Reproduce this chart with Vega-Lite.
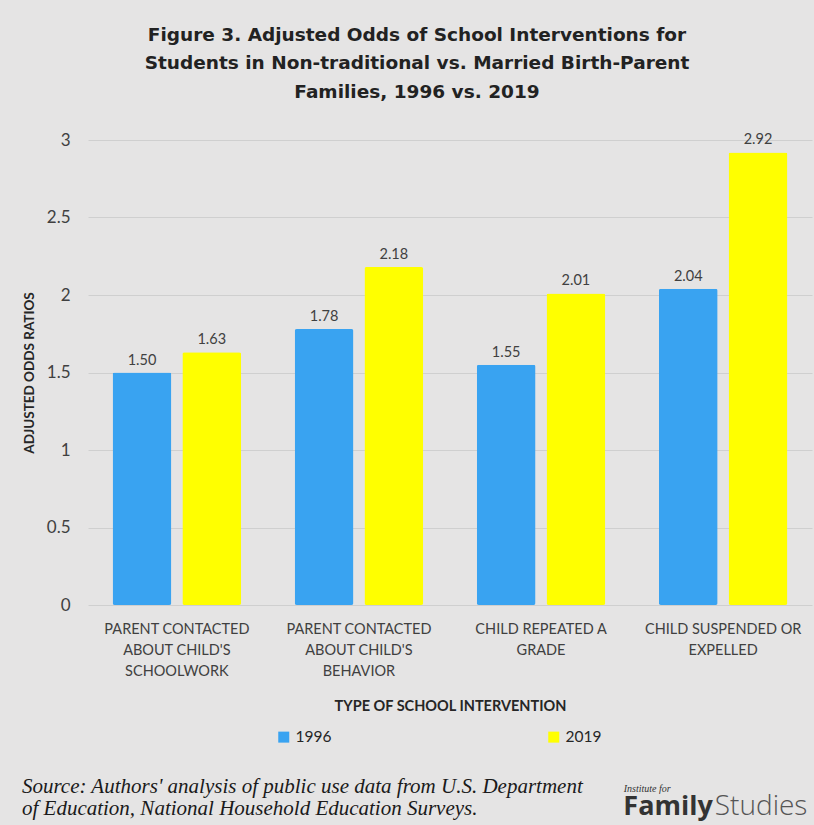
{
  "$schema": "https://vega.github.io/schema/vega-lite/v6.json",
  "background": "#e5e4e4",
  "padding": {"left": 21, "top": 25, "right": 3, "bottom": 10},
  "config": {
    "view": {"stroke": null},
    "font": "Lato",
    "axis": {"labelColor": "#404040", "titleColor": "#262626"}
  },
  "title": {
    "text": ["Figure 3. Adjusted Odds of School Interventions for", "Students in Non-traditional vs. Married Birth-Parent", "Families, 1996 vs. 2019"],
    "font": "DejaVu Sans",
    "fontSize": 18.5,
    "fontWeight": "bold",
    "color": "#222222",
    "lineHeight": 28.5,
    "anchor": "middle",
    "offset": 30
  },
  "spacing": 57,
  "vconcat": [
    {
      "width": 724,
      "height": 465,
      "data": {
        "values": [
          {"intervention": "PARENT CONTACTED\nABOUT CHILD'S\nSCHOOLWORK", "year": "1996", "odds": 1.50},
          {"intervention": "PARENT CONTACTED\nABOUT CHILD'S\nSCHOOLWORK", "year": "2019", "odds": 1.63},
          {"intervention": "PARENT CONTACTED\nABOUT CHILD'S\nBEHAVIOR", "year": "1996", "odds": 1.78},
          {"intervention": "PARENT CONTACTED\nABOUT CHILD'S\nBEHAVIOR", "year": "2019", "odds": 2.18},
          {"intervention": "CHILD REPEATED A\nGRADE", "year": "1996", "odds": 1.55},
          {"intervention": "CHILD REPEATED A\nGRADE", "year": "2019", "odds": 2.01},
          {"intervention": "CHILD SUSPENDED OR\nEXPELLED", "year": "1996", "odds": 2.04},
          {"intervention": "CHILD SUSPENDED OR\nEXPELLED", "year": "2019", "odds": 2.92}
        ]
      },
      "encoding": {
        "x": {
          "field": "intervention",
          "type": "nominal",
          "sort": null,
          "scale": {"paddingInner": 0.294, "paddingOuter": 0.135},
          "axis": {
            "title": "TYPE OF SCHOOL INTERVENTION",
            "titleFontSize": 14.5,
            "titleFontWeight": "bold",
            "titlePadding": 22,
            "labelAngle": 0,
            "labelFontSize": 14.5,
            "labelLineHeight": 21,
            "labelPadding": 17,
            "labelExpr": "split(datum.label, '\\n')",
            "ticks": false,
            "domain": false
          }
        },
        "xOffset": {"field": "year", "type": "nominal", "scale": {"paddingInner": 0.157}},
        "y": {
          "field": "odds",
          "type": "quantitative",
          "scale": {"domain": [0, 3]},
          "axis": {
            "title": "ADJUSTED ODDS RATIOS",
            "titleFontSize": 13.5,
            "titleFontWeight": "bold",
            "titlePadding": 10,
            "values": [0, 0.5, 1, 1.5, 2, 2.5, 3],
            "format": "~g",
            "labelFontSize": 17,
            "labelPadding": 18,
            "ticks": false,
            "domain": false,
            "gridColor": "#cfcfcf",
            "gridWidth": 1.2
          }
        }
      },
      "layer": [
        {
          "mark": {"type": "bar", "cornerRadius": 2},
          "encoding": {
            "color": {
              "field": "year",
              "type": "nominal",
              "scale": {"domain": ["1996", "2019"], "range": ["#39a3f1", "#ffff00"]},
              "legend": {
                "title": null,
                "orient": "none",
                "direction": "horizontal",
                "legendX": 188,
                "legendY": 589,
                "padding": 0,
                "symbolType": "square",
                "symbolSize": 121,
                "symbolStrokeWidth": 0,
                "labelFontSize": 15.5,
                "labelColor": "#262626",
                "labelOffset": 4,
                "columnPadding": 214
              }
            }
          }
        },
        {
          "mark": {"type": "text", "dy": -12, "fontSize": 14.5, "color": "#404040"},
          "encoding": {
            "text": {"field": "odds", "type": "quantitative", "format": ".2f"}
          }
        }
      ]
    },
    {
      "width": 724,
      "height": 50,
      "layer": [
        {
          "data": {"values": [{"line": 1, "text": "Source: Authors' analysis of public use data from U.S. Department"}, {"line": 2, "text": "of Education, National Household Education Surveys."}]},
          "mark": {"type": "text", "align": "left", "baseline": "alphabetic", "font": "Liberation Serif", "fontStyle": "italic", "fontSize": 21, "color": "#1a1a1a"},
          "encoding": {
            "x": {"datum": -0.0912, "type": "quantitative", "scale": {"domain": [0, 1]}, "axis": null},
            "y": {"field": "line", "type": "quantitative", "scale": {"domain": [2.1, 0.1]}, "axis": null}
          }
        },
        {
          "data": {"values": [{"text": "Institute for"}]},
          "mark": {"type": "text", "align": "left", "baseline": "alphabetic", "font": "Liberation Serif", "fontStyle": "italic", "fontSize": 10, "color": "#333333"},
          "encoding": {
            "x": {"datum": 0.74, "type": "quantitative"},
            "y": {"datum": 0.95, "type": "quantitative"}
          }
        },
        {
          "data": {"values": [{"text": "Family"}]},
          "mark": {"type": "text", "align": "right", "baseline": "alphabetic", "font": "Open Sans", "fontWeight": "bold", "fontSize": 27, "color": "#333333"},
          "encoding": {
            "x": {"datum": 0.863, "type": "quantitative"},
            "y": {"datum": 2, "type": "quantitative"}
          }
        },
        {
          "data": {"values": [{"text": "Studies"}]},
          "mark": {"type": "text", "align": "left", "baseline": "alphabetic", "font": "Open Sans", "fontWeight": 300, "fontSize": 28, "color": "#555555", "dx": 2},
          "encoding": {
            "x": {"datum": 0.863, "type": "quantitative"},
            "y": {"datum": 2, "type": "quantitative"}
          }
        }
      ],
      "encoding": {"text": {"field": "text", "type": "nominal"}}
    }
  ]
}
